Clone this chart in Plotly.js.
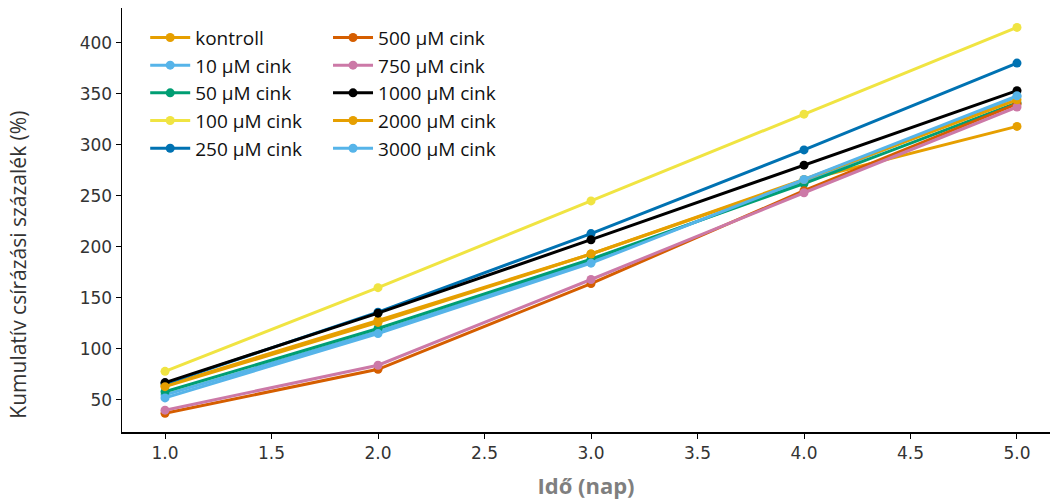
<!DOCTYPE html>
<html>
<head>
<meta charset="utf-8">
<script src="https://cdn.plot.ly/plotly-3.0.1.min.js"></script>
<style>html,body{margin:0;padding:0;background:#fff;}#chart{width:1052px;height:502px;}</style>
</head>
<body>
<div id="chart"></div>
<script>
const days = [1, 2, 3, 4, 5];
const seriesNames = ["kontroll", "10 µM cink", "50 µM cink", "100 µM cink", "250 µM cink",
  "500 µM cink", "750 µM cink", "1000 µM cink", "2000 µM cink", "3000 µM cink"];
const kontroll = [64, 128, 193, 265, 318];
const zn10 = [55, 117, 186, 264, 347];
const zn50 = [58, 120, 188, 262, 341];
const zn100 = [78, 160, 245, 330, 415];
const zn250 = [66, 136, 213, 295, 380];
const zn500 = [37, 80, 164, 255, 340];
const zn750 = [40, 84, 168, 253, 337];
const zn1000 = [67, 135, 207, 280, 353];
const zn2000 = [63, 126, 193, 266, 344];
const zn3000 = [52, 115, 184, 266, 348];
const seriesValues = [kontroll, zn10, zn50, zn100, zn250, zn500, zn750, zn1000, zn2000, zn3000];
const colors = ["#E69F00", "#56B4E9", "#009E73", "#F0E442", "#0072B2",
  "#D55E00", "#CC79A7", "#000000", "#E69F00", "#56B4E9"];

const traces = seriesValues.map((vals, i) => ({
  x: days, y: vals, name: seriesNames[i], type: "scatter", mode: "lines+markers",
  line: {color: colors[i], width: 3},
  marker: {color: colors[i], size: 9},
  legend: i < 5 ? "legend" : "legend2"
}));

const legendBase = {
  font: {family: "Open Sans, sans-serif", size: 19, color: "#111"},
  bgcolor: "rgba(0,0,0,0)", itemwidth: 40, tracegroupgap: 0,
  yanchor: "top", xanchor: "left"
};

const layout = {
  width: 1052, height: 502,
  margin: {l: 122, r: 2, t: 8, b: 70},
  paper_bgcolor: "#fff", plot_bgcolor: "#fff",
  xaxis: {
    range: [0.798, 5.155], tickvals: [1, 1.5, 2, 2.5, 3, 3.5, 4, 4.5, 5],
    ticktext: ["1.0", "1.5", "2.0", "2.5", "3.0", "3.5", "4.0", "4.5", "5.0"],
    showgrid: false, zeroline: false, showline: true, linecolor: "#000", linewidth: 1.5,
    ticks: "outside", ticklen: 5, tickcolor: "#000",
    tickfont: {family: "DejaVu Sans, sans-serif", size: 17, color: "#333"},
    title: {text: "<b>Idő (nap)</b>", font: {family: "Open Sans, sans-serif", size: 22, color: "#7f7f7f"}, standoff: 16}
  },
  yaxis: {
    range: [18.6, 434], tickvals: [50, 100, 150, 200, 250, 300, 350, 400],
    showgrid: false, zeroline: false, showline: true, linecolor: "#000", linewidth: 1.5,
    ticks: "outside", ticklen: 5, tickcolor: "#000",
    tickfont: {family: "DejaVu Sans, sans-serif", size: 17, color: "#333"}
  },
  annotations: [{
    text: "Kumulatív csírázási százalék (%)", textangle: -90,
    xref: "paper", yref: "paper", x: -0.113, y: 0.395, xanchor: "center", yanchor: "middle",
    showarrow: false, font: {family: "Open Sans, sans-serif", size: 21, color: "#333"}
  }],
  legend: Object.assign({}, legendBase, {x: 0.025, y: 0.975}),
  legend2: Object.assign({}, legendBase, {x: 0.222, y: 0.975}),
  showlegend: true
};

Plotly.newPlot("chart", traces, layout, {displayModeBar: false, staticPlot: true});
</script>
</body>
</html>
